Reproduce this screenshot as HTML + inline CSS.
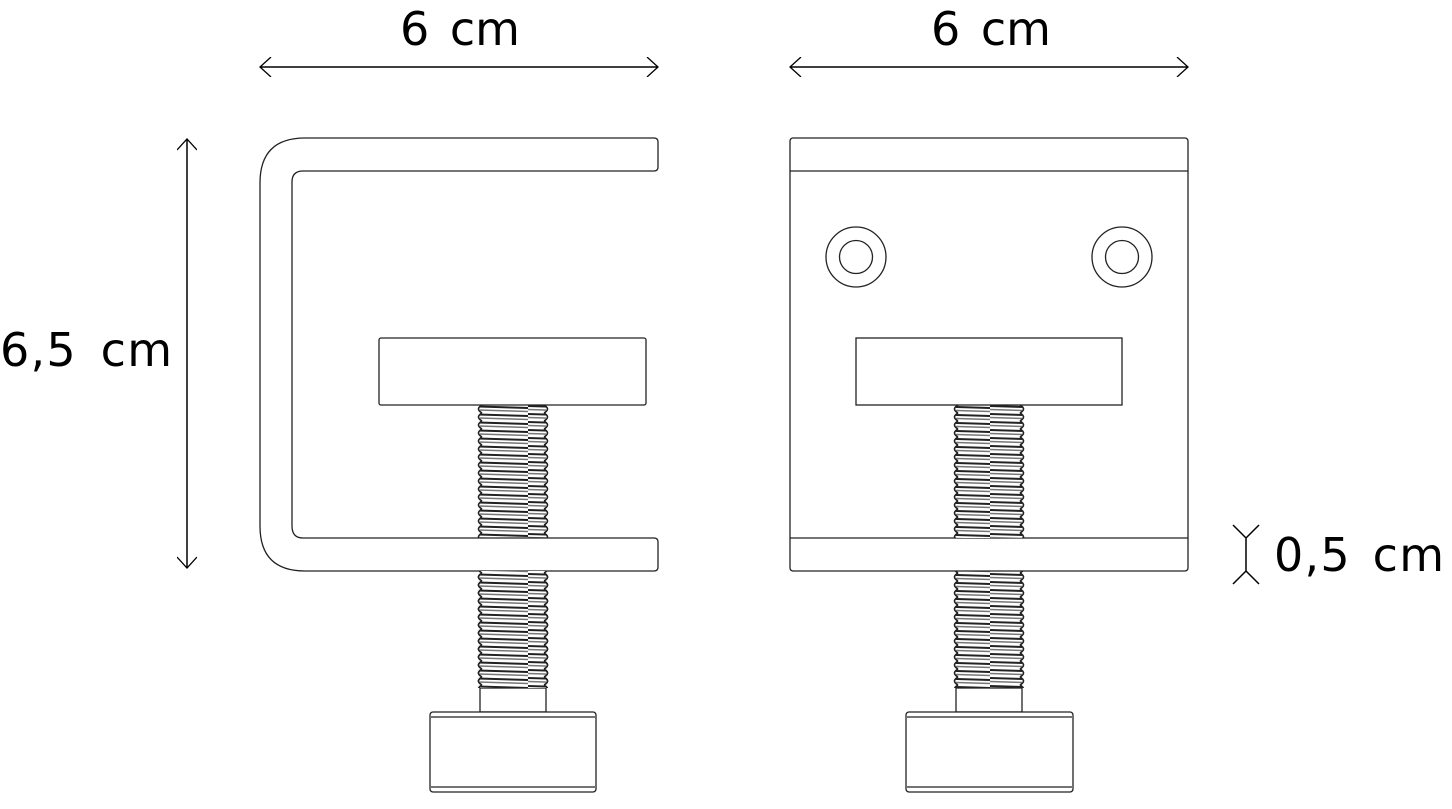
<!DOCTYPE html>
<html><head><meta charset="utf-8"><style>
html,body{margin:0;padding:0;background:#fff;}
svg{display:block;}
text{font-family:"DejaVu Sans","Liberation Sans",sans-serif;font-size:46px;fill:#000;}
</style></head><body>
<svg width="1452" height="809" viewBox="0 0 1452 809" xmlns="http://www.w3.org/2000/svg">
<defs>
<pattern id="th" x="0" y="405" width="66" height="8" patternUnits="userSpaceOnUse">
<rect width="66" height="8" fill="#fff"/>
<path d="M0 1 L66 3" stroke="#222" stroke-width="2"/>
<path d="M0 4.5 L66 6.5" stroke="#777" stroke-width="1.6"/>
</pattern>
<pattern id="edL" x="476" y="405" width="8" height="8" patternUnits="userSpaceOnUse">
<path d="M6 0 Q-1 4 6 8" fill="none" stroke="#222" stroke-width="1.6"/>
</pattern>
<pattern id="edR" x="542" y="405" width="8" height="8" patternUnits="userSpaceOnUse">
<path d="M2 0 Q9 4 2 8" fill="none" stroke="#222" stroke-width="1.6"/>
</pattern>
<pattern id="edL2" x="952" y="405" width="8" height="8" patternUnits="userSpaceOnUse">
<path d="M6 0 Q-1 4 6 8" fill="none" stroke="#222" stroke-width="1.6"/>
</pattern>
<pattern id="edR2" x="1018" y="405" width="8" height="8" patternUnits="userSpaceOnUse">
<path d="M2 0 Q9 4 2 8" fill="none" stroke="#222" stroke-width="1.6"/>
</pattern>
<marker id="a" viewBox="0 0 20 20" refX="19" refY="10" markerWidth="20" markerHeight="20" markerUnits="userSpaceOnUse" orient="auto-start-reverse">
<path d="M8 0 L19 10 L8 20" fill="none" stroke="#000" stroke-width="1.3"/>
</marker>
</defs>

<text x="400" y="45" word-spacing="6">6 cm</text>
<text x="931" y="45" word-spacing="6">6 cm</text>
<text x="0" y="366" word-spacing="8" textLength="172">6,5 cm</text>
<text x="1274" y="571" word-spacing="6" textLength="170">0,5 cm</text>

<g stroke="#000" stroke-width="1.5" fill="none">
<line x1="260" y1="67" x2="658" y2="67" marker-start="url(#a)" marker-end="url(#a)"/>
<line x1="790" y1="67" x2="1188" y2="67" marker-start="url(#a)" marker-end="url(#a)"/>
<line x1="187" y1="139" x2="187" y2="568" marker-start="url(#a)" marker-end="url(#a)"/>
<path d="M1233 525 L1246 538 L1259 525 M1246 538 L1246 571 M1233 584 L1246 571 L1259 584"/>
</g>

<!-- LEFT CLAMP -->
<g stroke="#222" stroke-width="1.3">
<rect x="480" y="405" width="66" height="283" fill="url(#th)" stroke="none"/>
<rect x="476" y="405" width="8" height="283" fill="url(#edL)" stroke="none"/>
<rect x="542" y="405" width="8" height="283" fill="url(#edR)" stroke="none"/>
<rect x="480" y="688" width="66" height="24" fill="#fff"/>
<rect x="430" y="712" width="166" height="80" rx="3" fill="#fff"/>
<line x1="431" y1="717" x2="595" y2="717"/>
<line x1="431" y1="787" x2="595" y2="787"/>
<path d="M658 142 V167 Q658 171 654 171 H303 Q292 171 292 182 V526 Q292 538 303 538 H654 Q658 538 658 542 V567 Q658 571 654 571 H305 Q260 571 260 526 V183 Q260 138 305 138 H654 Q658 138 658 142 Z" fill="#fff"/>
<rect x="379" y="338" width="267" height="67" rx="2" fill="#fff"/>
</g>

<!-- RIGHT CLAMP -->
<g stroke="#222" stroke-width="1.3">
<rect x="956" y="571" width="66" height="117" fill="url(#th)" stroke="none"/>
<rect x="952" y="571" width="8" height="117" fill="url(#edL2)" stroke="none"/>
<rect x="1018" y="571" width="8" height="117" fill="url(#edR2)" stroke="none"/>
<rect x="790" y="138" width="398" height="433" rx="3" fill="#fff"/>
<line x1="790" y1="171" x2="1188" y2="171"/>
<line x1="790" y1="538" x2="1188" y2="538"/>
<rect x="956" y="405" width="66" height="133" fill="url(#th)" stroke="none"/>
<rect x="952" y="405" width="8" height="133" fill="url(#edL2)" stroke="none"/>
<rect x="1018" y="405" width="8" height="133" fill="url(#edR2)" stroke="none"/>
<rect x="956" y="688" width="66" height="24" fill="#fff"/>
<rect x="906" y="712" width="167" height="80" rx="3" fill="#fff"/>
<line x1="907" y1="717" x2="1072" y2="717"/>
<line x1="907" y1="787" x2="1072" y2="787"/>
<circle cx="856" cy="257" r="30" fill="none"/>
<circle cx="856" cy="257" r="16.5" fill="none"/>
<circle cx="1122" cy="257" r="30" fill="none"/>
<circle cx="1122" cy="257" r="16.5" fill="none"/>
<rect x="856" y="338" width="266" height="67" fill="#fff"/>
</g>
<g>
<rect x="480" y="571" width="66" height="117" fill="url(#th)"/>
<rect x="476" y="571" width="8" height="117" fill="url(#edL)"/>
<rect x="542" y="571" width="8" height="117" fill="url(#edR)"/>
</g>
</svg>
</body></html>
